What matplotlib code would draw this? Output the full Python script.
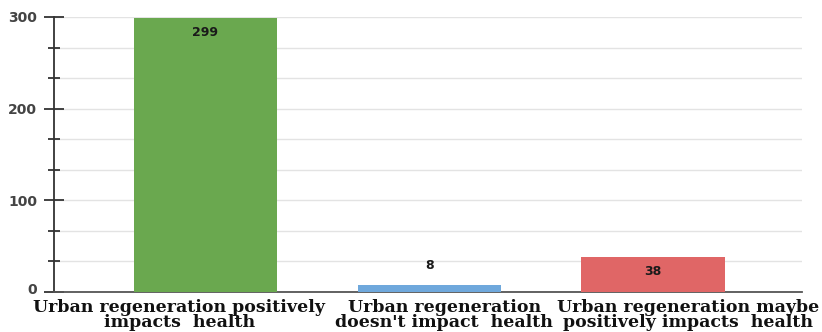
import matplotlib
matplotlib.use("Agg")
import matplotlib.pyplot as plt
from matplotlib.transforms import ScaledTranslation
from matplotlib.ticker import MultipleLocator

categories = [
    "Urban regeneration positively\nimpacts  health",
    "Urban regeneration\ndoesn't impact  health",
    "Urban regeneration maybe\npositively impacts  health",
]
counts = [299, 8, 38]
colors = ["#6aa84f", "#6fa8dc", "#e06666"]
yticks = [0, 100, 200, 300]

fig = plt.figure(figsize=(8.22, 3.32), dpi=100)
ax = fig.add_axes([0.0657, 0.1205, 0.91, 0.8283])

x = list(range(len(categories)))
bars = ax.bar(x, counts, width=0.64, color=colors, zorder=3)

ax.set_xlim(-0.676, 2.665)
ax.set_ylim(0, 300)

# light horizontal grid at major and minor steps
ax.set_yticks(yticks)
ax.yaxis.set_minor_locator(MultipleLocator(100 / 3))
ax.grid(axis="y", which="both", color="#e3e3e3", linewidth=1.0, zorder=0)
ax.set_axisbelow(True)

for side in ("top", "right"):
    ax.spines[side].set_visible(False)
ax.spines["left"].set_color("#333333")
ax.spines["left"].set_linewidth(1.3)
ax.spines["bottom"].set_color("#555555")
ax.spines["bottom"].set_linewidth(1.3)

ax.tick_params(axis="y", which="major", direction="inout", length=14,
               width=1.3, color="#333333", labelsize=10, labelcolor="#444444", pad=5)
ax.tick_params(axis="y", which="minor", direction="inout", length=9,
               width=1.3, color="#333333")
ax.tick_params(axis="x", length=0, pad=5)
for lab in ax.get_yticklabels():
    lab.set_fontweight("bold")
# the zero label sits a little above the baseline
ylabs = ax.get_yticklabels()
ylabs[0].set_transform(ylabs[0].get_transform() + ScaledTranslation(0, 3 / 100, fig.dpi_scale_trans))

ax.set_xticks(x)
ax.set_xticklabels(categories, fontfamily="DejaVu Serif", fontweight="bold",
                   fontsize=12.5, linespacing=0.88, color="#111111")
shifts = [-26, 15, 35]
for lab, dx in zip(ax.get_xticklabels(), shifts):
    lab.set_transform(lab.get_transform() + ScaledTranslation(dx / 100, 0, fig.dpi_scale_trans))

# value labels: inside the bar when tall enough, above it otherwise
for rect, v in zip(bars, counts):
    cx = rect.get_x() + rect.get_width() / 2
    if v > 20:
        ax.annotate(str(v), (cx, v), xytext=(0, -6), textcoords="offset points",
                    ha="center", va="top", fontsize=9, fontweight="bold", color="#1a1a1a")
    else:
        ax.annotate(str(v), (cx, v), xytext=(0, 9), textcoords="offset points",
                    ha="center", va="bottom", fontsize=9, fontweight="bold", color="#1a1a1a")

fig.savefig("out.png", dpi=100)
